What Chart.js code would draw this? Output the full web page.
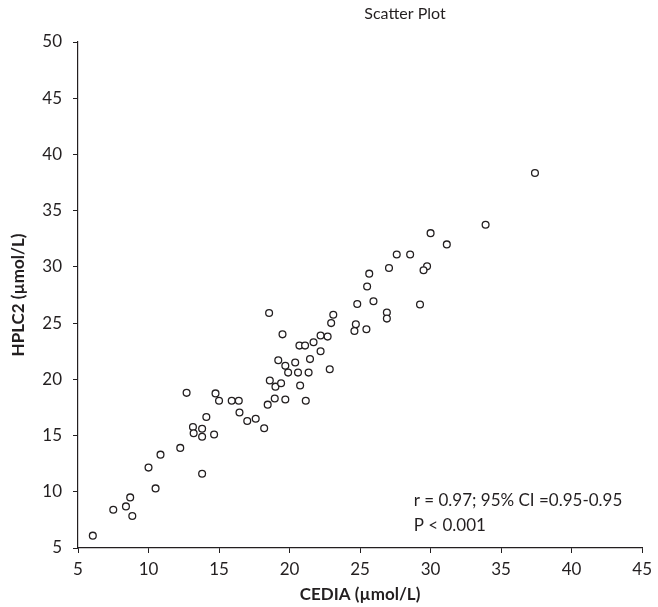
<!DOCTYPE html>
<html>
<head>
<meta charset="utf-8">
<script src="https://cdn.jsdelivr.net/npm/chart.js@4.4.1/dist/chart.umd.min.js"></script>
<style>
  html, body { margin: 0; padding: 0; background: #ffffff; }
  #wrap { width: 658px; height: 607px; }
</style>
</head>
<body>
<div id="wrap"><canvas id="chart" width="658" height="607"></canvas></div>
<script>
// CEDIA vs HPLC2 measurements (µmol/L)
const cediaValues = [
  6.05, 7.5, 8.4, 8.7, 8.85, 10.5, 10.0, 10.85, 12.25, 13.8,
  12.7, 13.15, 13.2, 13.8, 13.8, 14.1, 14.65, 14.75, 15.0, 15.9,
  16.4, 16.45, 17.0, 17.6, 18.2, 18.45, 18.55, 18.6, 19.5, 18.95,
  19.7, 21.15, 19.0, 19.4, 20.75, 19.2, 19.7, 19.9, 20.4, 20.6,
  21.35, 21.45, 20.7, 21.1, 21.7, 22.2, 22.7, 22.2, 22.85, 22.95,
  23.1, 24.7, 24.6, 24.8, 37.4, 33.9, 30.0, 31.15, 27.6, 28.55,
  27.05, 29.75, 29.5, 25.65, 25.5, 25.95, 29.25, 26.9, 26.9, 25.45
];
const hplc2Values = [
  6.1, 8.4, 8.7, 9.5, 7.85, 10.3, 12.15, 13.3, 13.9, 11.6,
  18.8, 15.75, 15.2, 15.6, 14.9, 16.65, 15.1, 18.75, 18.1, 18.1,
  18.1, 17.05, 16.3, 16.5, 15.65, 17.75, 25.9, 19.9, 24.0, 18.3,
  18.2, 18.1, 19.35, 19.65, 19.45, 21.7, 21.2, 20.6, 21.5, 20.6,
  20.6, 21.8, 23.0, 23.0, 23.3, 23.9, 23.8, 22.5, 20.9, 25.0,
  25.75, 24.9, 24.3, 26.7, 38.35, 33.75, 33.0, 32.0, 31.1, 31.1,
  29.9, 30.05, 29.7, 29.4, 28.25, 26.95, 26.65, 25.95, 25.4, 24.45
];
const xTickValues = [5, 10, 15, 20, 25, 30, 35, 40, 45];
const yTickValues = [5, 10, 15, 20, 25, 30, 35, 40, 45, 50];
const chartTitle = 'Scatter Plot';
const xAxisTitle = 'CEDIA (\u00b5mol/L)';
const yAxisTitle = 'HPLC2 (\u00b5mol/L)';
const statLines = ['r = 0.97; 95% CI =0.95-0.95', 'P < 0.001'];

const points = cediaValues.map((x, i) => ({ x: x, y: hplc2Values[i] }));
const FONT = 'Lato, "Open Sans", sans-serif';
const INK = '#231f20';

// Title and correlation statistics drawn onto the canvas
const textPlugin = {
  id: 'textPlugin',
  afterDraw(chart) {
    const ctx = chart.ctx;
    const xs = chart.scales.x, ys = chart.scales.y;
    ctx.save();
    ctx.fillStyle = INK;
    ctx.textBaseline = 'middle';
    ctx.textAlign = 'center';
    ctx.font = '16px ' + FONT;
    ctx.fillText(chartTitle, 405, 14);
    ctx.textAlign = 'left';
    ctx.font = '17px ' + FONT;
    const tx = xs.getPixelForValue(28.8);
    const ty = ys.getPixelForValue(9.2);
    statLines.forEach((line, i) => ctx.fillText(line, tx, ty + i * 25));
    ctx.restore();
  }
};

new Chart(document.getElementById('chart'), {
  type: 'scatter',
  data: {
    datasets: [{
      data: points,
      pointStyle: 'circle',
      pointRadius: 3.4,
      pointHoverRadius: 3.4,
      pointBorderWidth: 1.3,
      pointBorderColor: INK,
      pointBackgroundColor: '#ffffff'
    }]
  },
  options: {
    responsive: false,
    animation: false,
    events: [],
    layout: { padding: { top: 42, right: 13, left: 0, bottom: 0 } },
    plugins: { legend: { display: false }, tooltip: { enabled: false }, title: { display: false } },
    scales: {
      x: {
        type: 'linear',
        min: 5, max: 45,
        afterBuildTicks(scale) { scale.ticks = xTickValues.map(v => ({ value: v })); },
        afterFit(scale) { scale.height = 59; },
        grid: { display: true, drawOnChartArea: false, drawTicks: true, tickLength: 5, color: INK, lineWidth: 1 },
        border: { display: true, color: INK, width: 1.2 },
        ticks: { color: INK, font: { family: FONT, size: 17 }, padding: 6, maxRotation: 0, autoSkip: false },
        title: { display: true, text: xAxisTitle, color: INK, font: { family: FONT, size: 17, weight: 'bold' }, padding: { top: 0, bottom: 2 } }
      },
      y: {
        type: 'linear',
        min: 5, max: 50,
        afterBuildTicks(scale) { scale.ticks = yTickValues.map(v => ({ value: v })); },
        afterFit(scale) { scale.width = 78; },
        grid: { display: true, drawOnChartArea: false, drawTicks: true, tickLength: 5, color: INK, lineWidth: 1 },
        border: { display: true, color: INK, width: 1.2 },
        ticks: { color: INK, font: { family: FONT, size: 17 }, padding: 11, autoSkip: false },
        title: { display: true, text: yAxisTitle, color: INK, font: { family: FONT, size: 17, weight: 'bold' }, padding: { top: 8, bottom: 0 } }
      }
    }
  },
  plugins: [textPlugin]
});
</script>
</body>
</html>
